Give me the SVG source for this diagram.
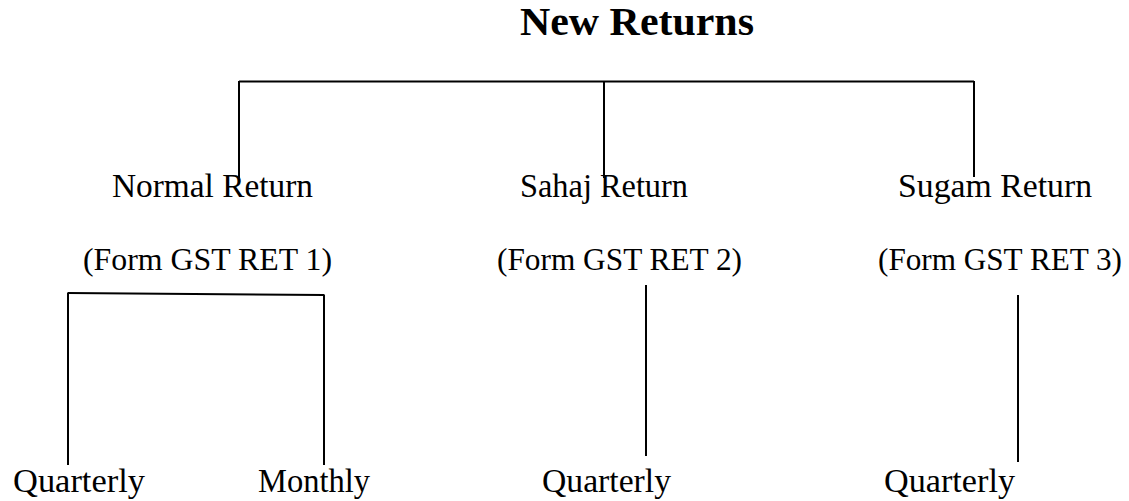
<svg xmlns="http://www.w3.org/2000/svg" width="1129" height="501" viewBox="0 0 1129 501">
<style>
text{font-family:"Liberation Serif","DejaVu Serif",serif;fill:#000;font-size:33px}
.title{font-weight:bold;font-size:40px}
.form{font-size:31.5px}
.conn line{stroke:#000;stroke-width:2;fill:none}
</style>
<rect width="1129" height="501" fill="#fff"/>
<g id="title"><text class="title" x="520" y="35" textLength="234" lengthAdjust="spacingAndGlyphs">New Returns</text></g>
<g id="normal"><text x="112" y="197" textLength="201" lengthAdjust="spacingAndGlyphs">Normal Return</text><text class="form" x="83" y="270" textLength="249" lengthAdjust="spacingAndGlyphs">(Form GST RET 1)</text></g>
<g id="sahaj"><text x="520" y="197" textLength="168" lengthAdjust="spacingAndGlyphs">Sahaj Return</text><text class="form" x="497" y="270" textLength="245" lengthAdjust="spacingAndGlyphs">(Form GST RET 2)</text></g>
<g id="sugam"><text x="898" y="197" textLength="194" lengthAdjust="spacingAndGlyphs">Sugam Return</text><text class="form" x="878" y="270" textLength="244" lengthAdjust="spacingAndGlyphs">(Form GST RET 3)</text></g>
<g id="q1"><text x="13" y="492" textLength="132" lengthAdjust="spacingAndGlyphs">Quarterly</text></g>
<g id="m1"><text x="258" y="492" textLength="112" lengthAdjust="spacingAndGlyphs">Monthly</text></g>
<g id="q2"><text x="542" y="492" textLength="129" lengthAdjust="spacingAndGlyphs">Quarterly</text></g>
<g id="q3"><text x="884" y="492" textLength="131" lengthAdjust="spacingAndGlyphs">Quarterly</text></g>
<g class="conn" id="connectors">
<line x1="239" y1="81.5" x2="974" y2="81.5"/>
<line x1="239" y1="81" x2="239" y2="178"/>
<line x1="604" y1="81" x2="604" y2="178"/>
<line x1="974" y1="81" x2="974" y2="177"/>
<line x1="68" y1="293" x2="324" y2="295"/>
<line x1="68" y1="292.5" x2="68" y2="465"/>
<line x1="324" y1="294.5" x2="324" y2="465"/>
<line x1="646" y1="285" x2="646" y2="456"/>
<line x1="1018" y1="295" x2="1018" y2="462"/>
</g>
</svg>
